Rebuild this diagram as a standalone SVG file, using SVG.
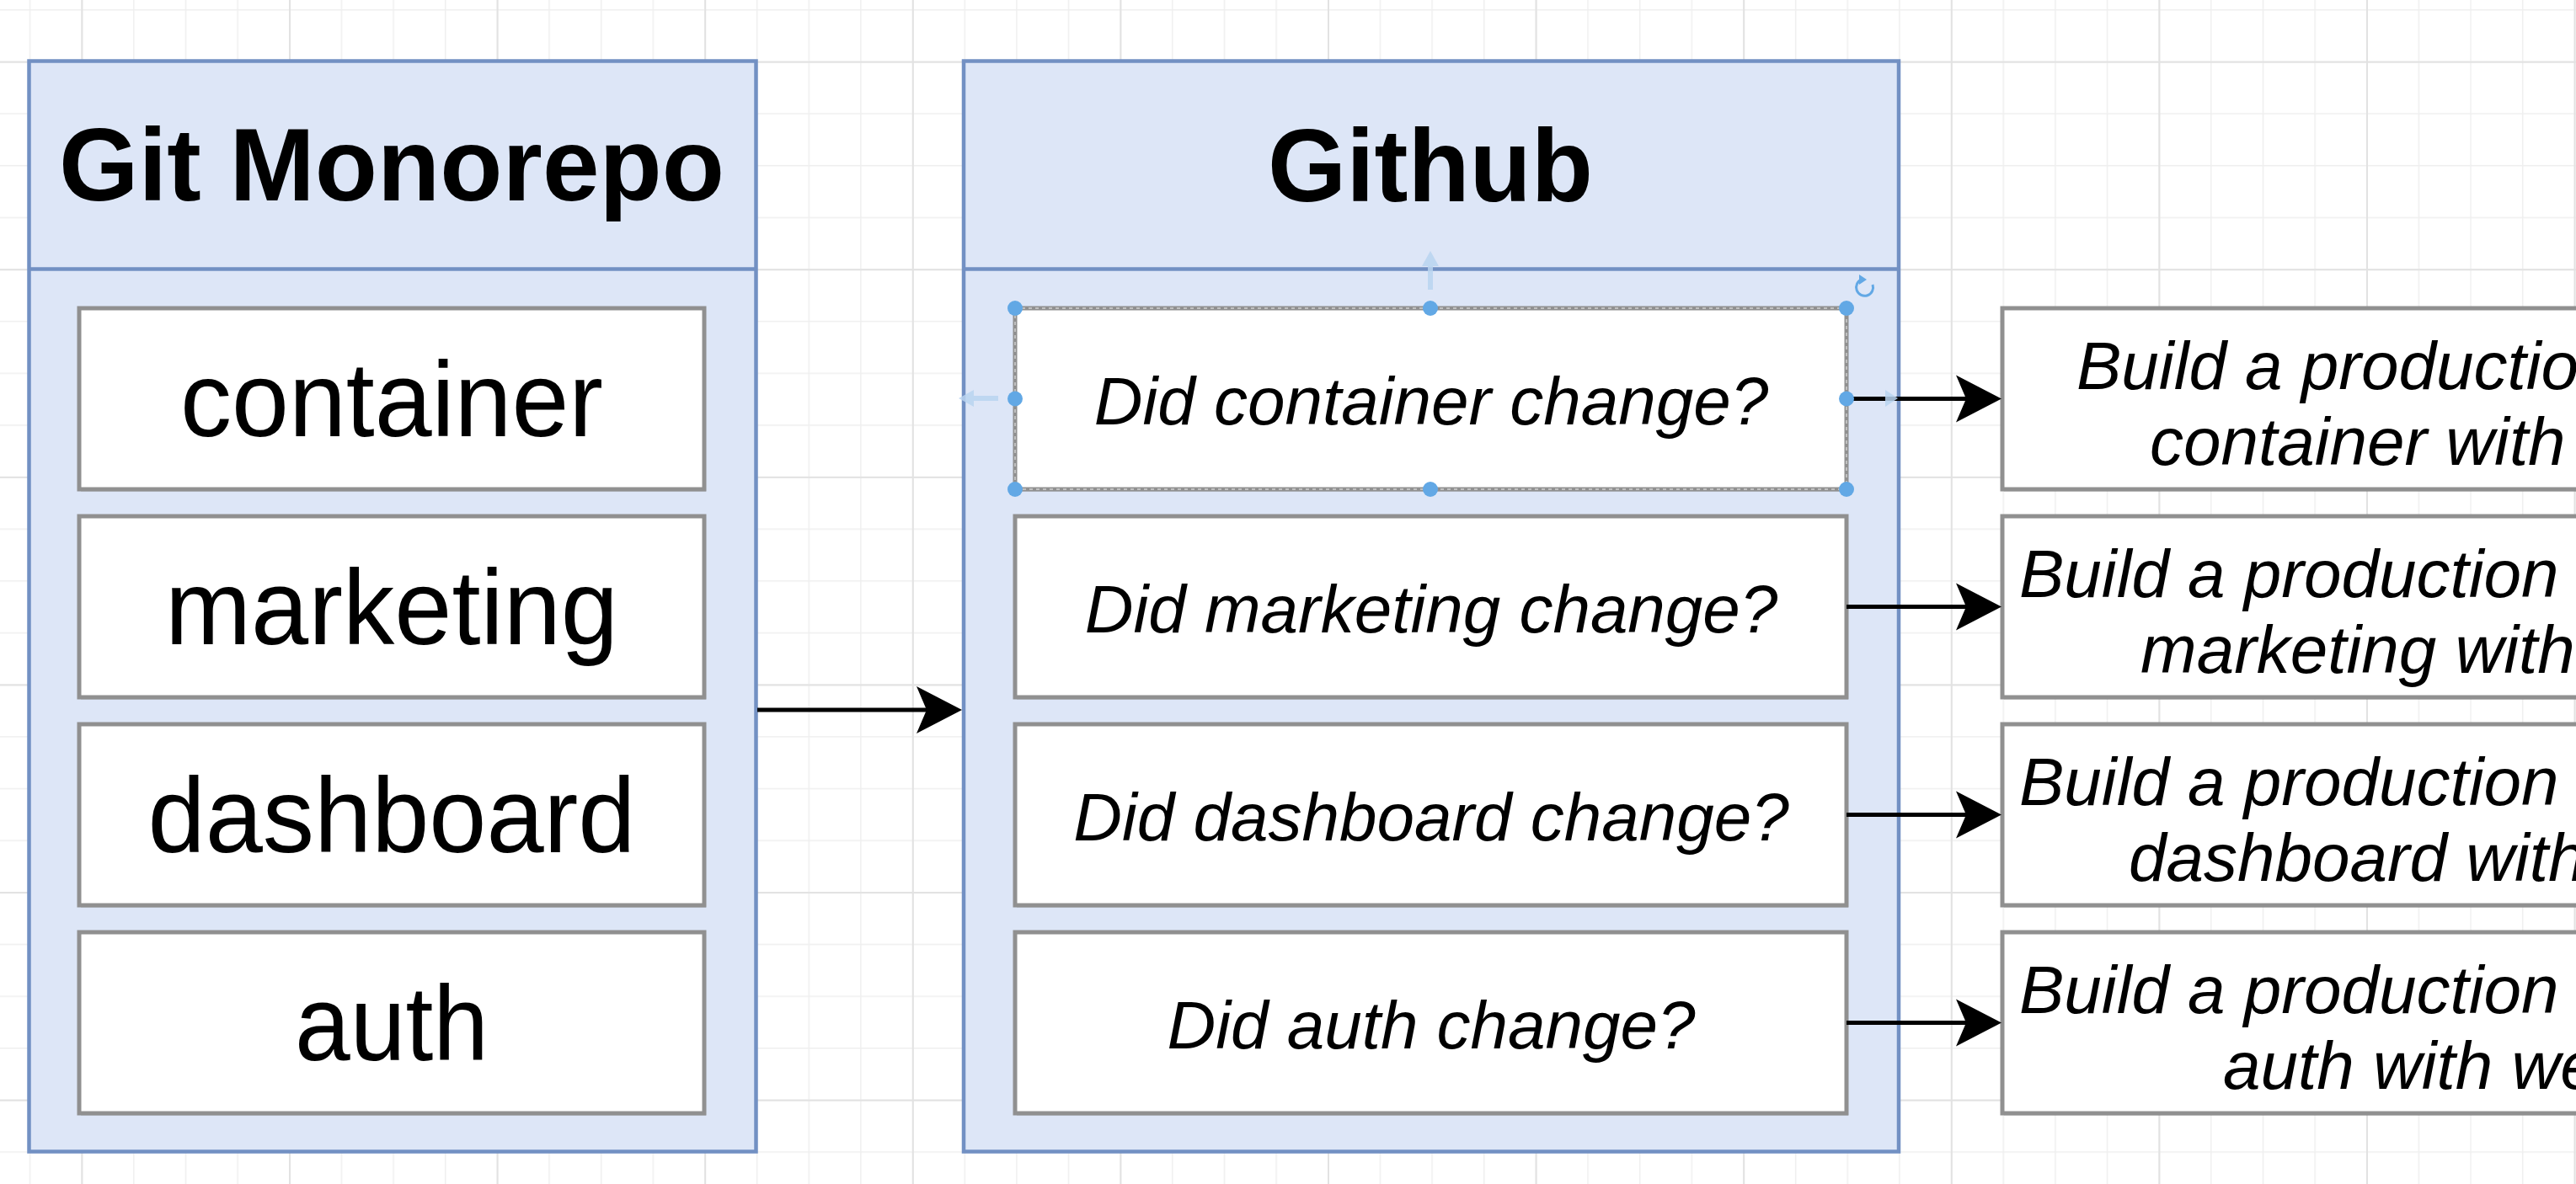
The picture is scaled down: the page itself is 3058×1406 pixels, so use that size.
<svg xmlns="http://www.w3.org/2000/svg" width="3058" height="1406" viewBox="0 0 3058 1406">
<style>
  .outer{fill:#dde6f7;stroke:#7290c3;stroke-width:4.5}
  .div{stroke:#7290c3;stroke-width:4.5}
  .inner{fill:#ffffff;stroke:#909090;stroke-width:5}
  .shadow{fill:#000;opacity:0.12}
  .title{font-family:"Liberation Sans",Arial,sans-serif;font-weight:bold;font-size:122px;fill:#000;text-anchor:middle}
  .lbl{font-family:"Liberation Sans",Arial,sans-serif;font-size:126px;fill:#000;text-anchor:middle}
  .q{font-family:"Liberation Sans",Arial,sans-serif;font-style:italic;font-size:80px;fill:#000;text-anchor:middle}
  .b{font-family:"Liberation Sans",Arial,sans-serif;font-style:italic;font-size:80px;fill:#000}
  .conn{stroke:#000;stroke-width:5;fill:none;marker-end:url(#arr)}
  .handle{fill:#62a8e5}
  .hover{fill:#b9d3f0;opacity:0.85}
</style>
<defs>
  <pattern id="gminor" patternUnits="userSpaceOnUse" x="34.75" y="11" width="61.65" height="61.65">
    <rect x="0" y="0" width="1.5" height="61.65" fill="#efefef"/>
    <rect x="0" y="0" width="61.65" height="1.5" fill="#efefef"/>
  </pattern>
  <pattern id="gmajor" patternUnits="userSpaceOnUse" x="96.4" y="72.66" width="246.6" height="246.6">
    <rect x="0" y="0" width="2" height="246.6" fill="#e2e2e2"/>
    <rect x="0" y="0" width="246.6" height="2" fill="#e2e2e2"/>
  </pattern>
  <marker id="arr" markerUnits="userSpaceOnUse" viewBox="-16 -30 58 60" markerWidth="58" markerHeight="60" refX="0" refY="0" orient="auto">
    <path d="M40,0 L-14,-28 L-2,0 L-14,28 Z" fill="#000"/>
  </marker>
</defs>

<rect x="0" y="0" width="3058" height="1406" fill="#ffffff"/>
<rect x="0" y="0" width="3058" height="1406" fill="url(#gminor)"/>
<rect x="0" y="0" width="3058" height="1406" fill="url(#gmajor)"/>

<g id="node-git-monorepo">
  <rect class="outer" x="34.5" y="72.5" width="863" height="1295"/>
  <line class="div" x1="34.5" y1="319.5" x2="897.5" y2="319.5"/>
  <text class="title" x="465" y="238" textLength="790" lengthAdjust="spacingAndGlyphs">Git Monorepo</text>
</g>

<g id="node-container">
  <rect class="shadow" x="96" y="369" width="742" height="215"/>
  <rect class="inner" x="94" y="366" width="742" height="215"/>
  <text class="lbl" x="465" y="517.5" textLength="502" lengthAdjust="spacingAndGlyphs">container</text>
</g>
<g id="node-marketing">
  <rect class="shadow" x="96" y="616" width="742" height="215"/>
  <rect class="inner" x="94" y="613" width="742" height="215"/>
  <text class="lbl" x="465" y="764.5" textLength="538" lengthAdjust="spacingAndGlyphs">marketing</text>
</g>
<g id="node-dashboard">
  <rect class="shadow" x="96" y="863" width="742" height="215"/>
  <rect class="inner" x="94" y="860" width="742" height="215"/>
  <text class="lbl" x="465" y="1011.5" textLength="579" lengthAdjust="spacingAndGlyphs">dashboard</text>
</g>
<g id="node-auth">
  <rect class="shadow" x="96" y="1110" width="742" height="215"/>
  <rect class="inner" x="94" y="1107" width="742" height="215"/>
  <text class="lbl" x="465" y="1258.5" textLength="230" lengthAdjust="spacingAndGlyphs">auth</text>
</g>

<g id="node-github">
  <rect class="outer" x="1144" y="72.5" width="1110" height="1295"/>
  <line class="div" x1="1144" y1="319.5" x2="2254" y2="319.5"/>
  <text class="title" x="1698" y="239" textLength="386" lengthAdjust="spacingAndGlyphs">Github</text>
</g>

<g id="node-q-container">
  <rect class="shadow" x="1207" y="369" width="987" height="215"/>
  <rect class="inner" x="1205" y="366" width="987" height="215"/>
  <rect x="1205" y="366" width="987" height="215" fill="none" stroke="#cfcfcf" stroke-width="1.5" stroke-dasharray="4 4"/>
  <text class="q" x="1699" y="503.5">Did container change?</text>
</g>
<g id="node-q-marketing">
  <rect class="shadow" x="1207" y="616" width="987" height="215"/>
  <rect class="inner" x="1205" y="613" width="987" height="215"/>
  <text class="q" x="1699" y="750.5">Did marketing change?</text>
</g>
<g id="node-q-dashboard">
  <rect class="shadow" x="1207" y="863" width="987" height="215"/>
  <rect class="inner" x="1205" y="860" width="987" height="215"/>
  <text class="q" x="1699" y="997.5">Did dashboard change?</text>
</g>
<g id="node-q-auth">
  <rect class="shadow" x="1207" y="1110" width="987" height="215"/>
  <rect class="inner" x="1205" y="1107" width="987" height="215"/>
  <text class="q" x="1699" y="1244.5">Did auth change?</text>
</g>

<g id="node-build-container">
  <rect class="shadow" x="2379" y="369" width="800" height="215"/>
  <rect class="inner" x="2377" y="366" width="800" height="215"/>
  <text class="b" x="2465" y="461.5">Build a production</text>
  <text class="b" x="2552" y="552">container with</text>
</g>
<g id="node-build-marketing">
  <rect class="shadow" x="2379" y="616" width="800" height="215"/>
  <rect class="inner" x="2377" y="613" width="800" height="215"/>
  <text class="b" x="2397" y="708.5">Build a production</text>
  <text class="b" x="2541" y="799">marketing with</text>
</g>
<g id="node-build-dashboard">
  <rect class="shadow" x="2379" y="863" width="800" height="215"/>
  <rect class="inner" x="2377" y="860" width="800" height="215"/>
  <text class="b" x="2397" y="955.5">Build a production</text>
  <text class="b" x="2527" y="1046">dashboard with</text>
</g>
<g id="node-build-auth">
  <rect class="shadow" x="2379" y="1110" width="800" height="215"/>
  <rect class="inner" x="2377" y="1107" width="800" height="215"/>
  <text class="b" x="2397" y="1202.5">Build a production</text>
  <text class="b" x="2639" y="1293">auth with we</text>
</g>

<g id="connectors">
  <line class="conn" x1="899" y1="843" x2="1102" y2="843"/>
  <line class="conn" x1="2192" y1="473.5" x2="2336" y2="473.5"/>
  <line class="conn" x1="2192" y1="720.5" x2="2336" y2="720.5"/>
  <line class="conn" x1="2192" y1="967.5" x2="2336" y2="967.5"/>
  <line class="conn" x1="2192" y1="1214.5" x2="2336" y2="1214.5"/>
</g>

<g id="selection">
  <path class="hover" d="M1695,344 V316 H1688 L1698,298 L1708,316 H1701 V344 Z"/>
  <path class="hover" d="M1185,470 H1156 V463 L1138,473 L1156,483 V476 H1185 Z"/>
  <path class="hover" d="M2238,463 L2253,473 L2238,483 Z"/>
  <circle class="handle" cx="1205" cy="366" r="9"/>
  <circle class="handle" cx="1698" cy="366" r="9"/>
  <circle class="handle" cx="2192" cy="366" r="9"/>
  <circle class="handle" cx="1205" cy="473.5" r="9"/>
  <circle class="handle" cx="2192" cy="473.5" r="9"/>
  <circle class="handle" cx="1205" cy="581" r="9"/>
  <circle class="handle" cx="1698" cy="581" r="9"/>
  <circle class="handle" cx="2192" cy="581" r="9"/>
  <path d="M2223,338 A10,10 0 1 1 2210,332" fill="none" stroke="#62a8e5" stroke-width="3"/>
  <path d="M2207,326 L2216,332 L2207,338 Z" fill="#62a8e5"/>
</g>
</svg>
